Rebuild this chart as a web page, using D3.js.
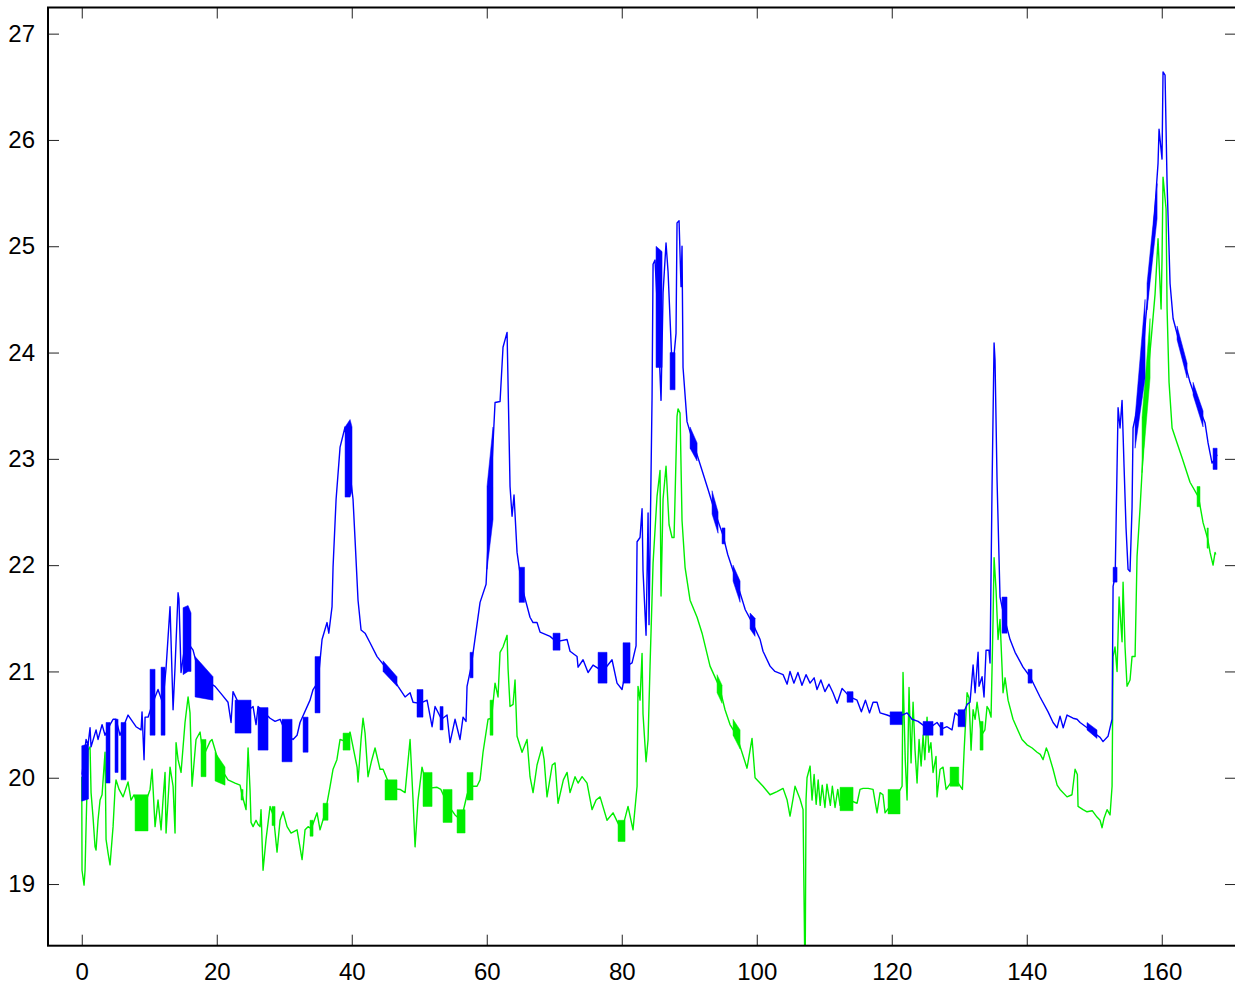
<!DOCTYPE html>
<html lang="en">
<head>
<meta charset="utf-8">
<title>Two series</title>
<script src="https://d3js.org/d3.v7.min.js"></script>
<style>
  body { margin: 0; background: #fff; }
  svg { display: block; font-family: "Liberation Sans", Arial, Helvetica, sans-serif; }
</style>
</head>
<body>
<div id="chart"></div>
<script>
// tick values
var xTicks = [0, 20, 40, 60, 80, 100, 120, 140, 160];
var yTicks = [19, 20, 21, 22, 23, 24, 25, 26, 27];

// blue series [x, y]
var blueLine = [
  [0.04,20.03],[0.64,20.36],[0.93,20.31],[1.23,20.47],[1.38,20.29],[2.12,20.45],[2.41,20.36],[3.01,20.5],[3.45,20.4],
  [4.19,20.5],[4.64,20.55],[5.08,20.55],[5.67,20.4],[6.86,20.59],[8.04,20.48],[8.79,20.45],[8.93,20.62],[9.23,20.17],
  [9.38,20.57],[9.82,20.57],[10.5,20.7],[11.3,20.83],[12.0,20.7],[12.49,21.03],[13.08,21.61],[13.53,20.64],[13.82,21.04],
  [14.27,21.74],[14.4,21.68],[14.71,20.99],[15.4,21.3],[16.49,21.2],[17.5,20.95],[19.75,20.86],[20.79,20.78],
  [21.67,20.71],[22.12,20.52],[22.41,20.81],[24.0,20.6],[25.38,20.67],[25.82,20.5],[26.12,20.67],[27.9,20.56],
  [28.64,20.53],[29.38,20.55],[30.4,20.4],[31.3,20.36],[31.9,20.4],[32.34,20.52],[33.82,20.73],[34.27,20.83],
  [35.0,20.9],[35.6,21.3],[36.34,21.46],[36.6,21.36],[37.08,21.61],[37.23,21.98],[37.68,22.62],[38.27,23.11],
  [39.01,23.3],[39.5,23.0],[40.19,22.62],[40.49,22.24],[40.93,21.67],[41.38,21.39],[41.97,21.36],[42.71,21.27],
  [43.75,21.14],[45.5,21.0],[46.86,20.86],[47.9,20.76],[48.64,20.8],[49.08,20.71],[50.1,20.7],[51.16,20.73],
  [51.9,20.48],[52.34,20.67],[53.3,20.55],[54.12,20.59],[54.56,20.33],[55.3,20.55],[56.04,20.36],[56.49,20.57],
  [56.93,20.53],[57.08,20.86],[57.7,21.05],[59.01,21.65],[59.9,21.82],[60.5,22.6],[61.23,23.53],[61.97,23.54],
  [62.41,24.05],[63.01,24.19],[63.45,22.74],[63.75,22.46],[64.04,22.66],[64.49,22.12],[65.2,21.8],[66.41,21.51],
  [66.86,21.46],[67.45,21.46],[67.9,21.37],[69.38,21.33],[70.3,21.28],[71.9,21.3],[72.34,21.19],[73.38,21.14],
  [73.53,21.04],[74.27,21.11],[75.01,20.99],[75.75,21.06],[77.2,21.0],[78.56,21.11],[79.3,20.89],[80.04,20.83],
  [80.7,21.05],[81.53,21.08],[82.12,21.24],[82.27,22.22],[82.71,22.26],[83.01,22.53],[83.15,21.95],[83.6,21.34],
  [83.9,22.49],[84.04,21.44],[84.49,23.58],[84.64,24.83],[84.93,24.87],[85.3,24.4],[85.82,23.55],[86.12,24.56],
  [86.56,25.03],[86.86,24.76],[87.5,23.8],[88.04,24.18],[88.19,25.22],[88.49,25.24],[88.78,24.62],[88.93,25.0],
  [89.08,23.86],[89.67,23.35],[90.6,23.15],[91.9,22.89],[92.8,22.71],[93.8,22.5],[95.0,22.28],[95.7,22.1],
  [97.0,21.85],[98.3,21.58],[99.4,21.45],[100.5,21.3],[100.93,21.19],[101.97,21.05],[102.7,21.0],[103.9,20.97],
  [104.5,20.88],[104.93,21.0],[105.5,20.89],[106.1,20.99],[106.7,20.87],[107.3,20.97],[107.9,20.89],[108.5,20.94],
  [108.93,20.83],[109.5,20.92],[110.1,20.81],[110.7,20.88],[111.3,20.8],[111.9,20.7],[112.64,20.84],[113.08,20.81],
  [113.8,20.76],[114.86,20.73],[115.5,20.62],[116.1,20.73],[116.7,20.61],[117.23,20.71],[117.82,20.71],
  [118.27,20.61],[119.3,20.59],[120.6,20.56],[122.27,20.61],[123.0,20.55],[123.9,20.53],[125.4,20.46],
  [126.71,20.52],[127.4,20.46],[128.19,20.48],[128.93,20.45],[129.38,20.61],[130.3,20.56],[131.16,20.69],
  [131.6,20.71],[132.05,21.06],[132.35,20.8],[132.79,21.18],[132.93,20.86],[133.38,20.95],[133.67,20.76],
  [133.97,21.2],[134.4,21.2],[134.56,21.08],[134.86,22.74],[135.16,24.09],[135.3,23.93],[135.6,22.8],[136.04,21.7],
  [136.7,21.5],[137.53,21.3],[138.27,21.18],[139.45,21.04],[140.5,20.95],[141.97,20.76],[143.16,20.62],
  [143.9,20.52],[144.49,20.47],[144.93,20.58],[145.4,20.47],[145.97,20.59],[146.86,20.56],[147.45,20.55],
  [147.9,20.52],[149.6,20.44],[150.86,20.38],[151.3,20.34],[152.04,20.39],[152.64,20.55],[152.79,21.8],
  [153.1,21.9],[153.53,23.48],[153.82,23.29],[154.12,23.55],[154.42,22.92],[154.71,22.35],[155.01,21.96],
  [155.3,21.94],[155.6,22.54],[155.75,23.29],[156.8,23.6],[157.6,24.3],[158.6,25.0],[159.45,25.78],[159.6,26.1],
  [160.04,25.82],[160.19,26.64],[160.49,26.61],[160.79,25.59],[161.23,24.65],[161.68,24.32],[163.0,24.0],
  [164.19,23.72],[165.4,23.5],[166.41,23.34],[166.86,23.15],[167.45,22.96],[167.9,23.0],[168.2,23.04]
];

// green series [x, y]
var greenLine = [
  [0.0,20.01],[0.04,19.13],[0.34,18.99],[0.49,19.13],[0.64,19.54],[0.93,20.26],[1.23,20.29],[1.38,19.86],
  [1.67,19.63],[1.97,19.35],[2.12,19.32],[2.41,19.6],[2.71,19.79],[3.01,19.84],[3.45,20.24],[3.5,20.0],[3.6,19.42],
  [3.9,19.29],[4.19,19.18],[4.64,19.54],[4.93,19.89],[5.08,19.98],[5.53,19.89],[6.12,19.82],[6.86,19.96],
  [7.3,19.79],[7.75,19.84],[8.8,19.65],[10.12,19.89],[10.42,20.08],[10.86,19.54],[11.3,19.79],[11.75,19.51],
  [12.04,19.79],[12.34,20.05],[12.49,19.48],[13.08,20.1],[13.53,19.92],[13.82,19.48],[13.97,20.33],[14.27,20.17],
  [14.71,20.05],[15.3,20.52],[15.75,20.76],[16.04,20.61],[16.34,19.92],[16.93,20.36],[17.53,20.43],[18.0,20.2],
  [19.0,20.34],[19.3,20.36],[20.5,20.1],[21.67,19.98],[22.71,19.95],[23.45,19.93],[23.75,19.84],[24.34,19.7],
  [24.64,20.28],[24.93,19.89],[25.08,19.58],[25.38,19.54],[25.82,19.6],[26.12,19.56],[26.41,19.54],[26.56,19.7],
  [26.86,19.13],[27.3,19.42],[27.9,19.73],[28.4,19.64],[28.93,19.3],[29.38,19.6],[29.82,19.68],[30.42,19.54],
  [31.01,19.48],[31.9,19.51],[32.64,19.23],[33.08,19.51],[33.53,19.54],[34.0,19.52],[34.86,19.67],[35.3,19.51],
  [36.1,19.68],[36.79,19.92],[37.23,20.08],[37.8,20.17],[38.27,20.36],[39.2,20.34],[39.75,20.43],[40.19,20.29],
  [40.79,20.1],[40.93,19.96],[41.38,20.36],[41.67,20.56],[41.97,20.42],[42.41,20.01],[42.9,20.15],[43.45,20.28],
  [44.19,20.08],[44.64,20.08],[45.8,19.9],[47.16,19.89],[47.9,19.86],[48.64,20.36],[49.08,19.79],[49.38,19.35],
  [49.82,19.79],[50.41,20.1],[51.2,19.9],[52.64,19.91],[53.2,19.89],[54.2,19.75],[55.3,19.65],[56.2,19.6],
  [57.08,19.84],[57.5,19.92],[58.56,19.92],[59.01,19.98],[59.45,20.24],[60.19,20.55],[60.7,20.56],[61.23,20.89],
  [61.67,20.76],[61.97,21.18],[62.41,21.23],[63.01,21.34],[63.16,21.02],[63.45,20.67],[63.9,20.69],[64.19,20.92],
  [64.49,20.39],[65.23,20.24],[65.97,20.36],[66.41,20.01],[66.86,19.86],[67.45,20.12],[68.19,20.29],[68.5,20.17],
  [68.93,19.82],[69.7,20.12],[70.12,20.14],[70.56,19.76],[71.35,19.98],[71.9,20.05],[72.34,19.86],[73.08,20.01],
  [73.53,19.95],[74.12,20.01],[74.86,19.95],[75.6,19.7],[76.2,19.79],[76.79,19.82],[77.82,19.6],[78.71,19.67],
  [80.0,19.5],[80.93,19.73],[81.67,19.51],[82.27,19.92],[82.41,20.86],[82.71,20.73],[83.01,21.17],[83.15,20.6],
  [83.6,20.15],[83.9,20.36],[84.19,21.05],[84.64,22.02],[85.23,22.65],[85.67,22.89],[85.82,21.71],[86.12,22.62],
  [86.56,22.93],[87.01,22.38],[87.45,22.26],[87.75,22.26],[88.19,23.4],[88.34,23.47],[88.64,23.43],[88.93,22.42],
  [89.38,21.98],[90.12,21.67],[91.16,21.51],[91.9,21.36],[93.08,21.05],[94.5,20.85],[95.3,20.64],[96.04,20.5],
  [97.0,20.4],[98.56,20.09],[99.3,20.37],[99.75,20.0],[100.93,19.92],[101.97,19.84],[103.0,19.87],[103.9,19.9],
  [104.5,19.79],[104.93,19.64],[105.4,19.81],[105.67,19.92],[106.41,19.8],[106.86,19.7],[107.16,18.0],[107.3,19.79],
  [107.45,20.0],[107.9,20.11],[108.19,19.79],[108.5,20.03],[108.8,19.75],[109.1,19.98],[109.4,19.74],[109.7,19.93],
  [110.1,19.72],[110.4,19.94],[110.9,19.74],[111.2,19.92],[111.6,19.72],[112.0,19.89],[112.34,19.74],[113.3,19.8],
  [114.86,19.76],[115.3,19.89],[115.75,19.9],[116.5,19.9],[117.23,19.89],[117.82,19.67],[118.27,19.86],
  [118.7,19.84],[119.01,19.67],[120.3,19.78],[121.53,19.92],[121.67,20.99],[122.0,20.17],[122.27,19.79],
  [122.56,20.85],[122.86,20.14],[123.16,20.71],[123.45,20.26],[123.75,19.95],[124.05,20.36],[124.35,20.11],
  [124.64,20.4],[124.9,20.17],[125.23,20.57],[125.5,20.24],[125.8,20.33],[126.12,20.05],[126.56,20.2],
  [126.71,19.82],[127.16,20.08],[127.6,20.1],[128.05,19.89],[129.3,20.0],[130.47,19.89],[130.71,20.24],
  [131.16,20.8],[131.45,20.75],[131.75,20.26],[132.05,20.64],[132.35,20.55],[132.64,20.71],[133.3,20.4],
  [133.8,20.45],[134.12,20.67],[134.4,20.64],[134.71,20.57],[135.01,21.49],[135.16,22.07],[135.45,21.77],
  [135.75,21.3],[136.04,21.49],[136.34,21.04],[136.49,20.8],[136.79,20.94],[137.23,20.73],[137.97,20.55],
  [139.3,20.36],[140.04,20.31],[140.8,20.28],[141.53,20.24],[142.0,20.22],[142.42,20.17],[142.9,20.28],
  [143.16,20.24],[143.9,20.08],[144.5,19.93],[144.93,19.89],[145.97,19.82],[146.7,19.84],[147.16,20.08],
  [147.5,20.03],[147.6,19.73],[148.34,19.7],[148.93,19.68],[149.7,19.69],[150.41,19.63],[150.86,19.6],
  [151.16,19.53],[151.45,19.62],[151.9,19.7],[152.34,19.65],[152.64,19.92],[152.79,21.14],[153.08,21.23],
  [153.38,21.0],[153.68,21.7],[154.12,21.28],[154.27,21.84],[154.56,21.23],[154.86,20.86],[155.3,20.92],
  [155.6,21.14],[156.05,21.14],[156.34,22.08],[156.79,22.54],[157.7,23.6],[158.56,24.22],[159.01,24.55],
  [159.45,25.07],[159.9,24.41],[160.04,24.87],[160.19,25.65],[160.64,25.35],[160.79,24.41],[161.08,23.72],
  [161.53,23.29],[162.27,23.15],[163.01,23.01],[164.19,22.78],[165.45,22.64],[166.12,22.4],[166.8,22.25],
  [167.16,22.12],[167.6,22.0],[167.9,22.12],[168.0,22.1]
];

// dense oscillation bands [x, low, high]
var blueBands = [
  [[0.0,19.78,20.3],[1.0,19.8,20.32]],
  [[3.6,19.95,20.52],[4.19,19.95,20.52]],
  [[4.93,20.05,20.55],[5.38,20.05,20.55]],
  [[5.82,19.98,20.52],[6.56,19.98,20.52]],
  [[10.12,20.4,21.02],[10.86,20.4,21.02]],
  [[11.75,20.4,21.04],[12.34,20.4,21.04]],
  [[15.01,20.97,21.6],[15.75,21.0,21.62],[16.19,21.0,21.55]],
  [[16.79,20.76,21.14],[19.45,20.73,20.95]],
  [[22.71,20.42,20.73],[25.08,20.42,20.73]],
  [[26.12,20.26,20.66],[27.6,20.26,20.66]],
  [[29.67,20.15,20.55],[31.16,20.15,20.55]],
  [[32.79,20.24,20.57],[33.53,20.24,20.57]],
  [[34.56,20.61,21.14],[35.3,20.61,21.14]],
  [[39.01,22.64,23.3],[39.75,22.64,23.37],[40.04,22.7,23.3]],
  [[44.64,21.0,21.1],[46.71,20.86,20.95]],
  [[49.67,20.57,20.83],[50.56,20.57,20.83]],
  [[53.08,20.45,20.67],[53.53,20.45,20.67]],
  [[57.53,20.94,21.18],[57.97,20.94,21.18]],
  [[60.04,21.96,22.74],[60.93,22.43,23.3]],
  [[64.8,21.65,21.98],[65.6,21.65,21.98]],
  [[69.82,21.2,21.36],[70.86,21.2,21.36]],
  [[76.49,20.89,21.18],[77.82,20.89,21.18]],
  [[80.19,20.89,21.27],[81.23,20.89,21.27]],
  [[85.08,23.86,25.0],[85.97,23.86,24.95]],
  [[87.16,23.65,24.0],[87.9,23.65,24.0]],
  [[90.12,23.1,23.3],[91.16,22.98,23.15]],
  [[93.38,22.48,22.7],[94.27,22.3,22.5]],
  [[94.86,22.2,22.35],[95.3,22.2,22.35]],
  [[96.49,21.85,22.0],[97.53,21.65,21.85]],
  [[99.01,21.4,21.55],[99.75,21.33,21.5]],
  [[113.38,20.71,20.81],[114.27,20.71,20.81]],
  [[119.75,20.5,20.62],[121.53,20.5,20.62]],
  [[124.64,20.4,20.53],[126.12,20.4,20.53]],
  [[127.16,20.4,20.52],[127.6,20.4,20.52]],
  [[129.82,20.48,20.64],[130.86,20.48,20.64]],
  [[136.34,21.36,21.7],[137.08,21.36,21.7]],
  [[140.19,20.89,21.02],[140.79,20.89,21.02]],
  [[148.93,20.45,20.52],[150.41,20.37,20.45]],
  [[152.79,21.84,21.98],[153.38,21.84,21.98]],
  [[156.05,23.1,23.39],[157.53,23.76,24.5]],
  [[157.82,24.4,24.65],[159.31,25.26,25.59]],
  [[162.27,24.12,24.25],[163.75,23.76,23.9]],
  [[164.64,23.6,23.72],[166.12,23.3,23.45]],
  [[167.6,22.9,23.1],[168.2,22.9,23.1]]
];

var greenBands = [
  [[7.9,19.5,19.84],[9.82,19.5,19.84]],
  [[17.67,20.01,20.36],[18.41,20.01,20.36]],
  [[19.75,19.97,20.24],[21.23,19.93,20.1]],
  [[23.6,19.79,19.89],[23.9,19.79,19.89]],
  [[28.19,19.55,19.73],[28.64,19.55,19.73]],
  [[33.82,19.45,19.6],[34.27,19.45,19.6]],
  [[35.75,19.6,19.76],[36.49,19.6,19.76]],
  [[38.71,20.26,20.42],[39.75,20.26,20.42]],
  [[44.93,19.79,19.98],[46.71,19.79,19.98]],
  [[50.56,19.73,20.05],[51.9,19.73,20.05]],
  [[53.53,19.58,19.89],[54.86,19.58,19.89]],
  [[55.6,19.48,19.7],[56.79,19.48,19.7]],
  [[57.08,19.79,20.05],[57.97,19.79,20.05]],
  [[60.49,20.4,20.73],[60.93,20.4,20.73]],
  [[79.45,19.4,19.6],[80.49,19.4,19.6]],
  [[94.12,20.8,20.97],[94.86,20.7,20.87]],
  [[96.49,20.4,20.55],[97.53,20.27,20.45]],
  [[112.34,19.69,19.91],[114.27,19.69,19.91]],
  [[119.45,19.66,19.89],[121.23,19.66,19.89]],
  [[128.64,19.92,20.1],[129.93,19.92,20.1]],
  [[133.08,20.26,20.53],[133.53,20.26,20.53]],
  [[157.08,22.87,23.39],[158.27,23.76,24.32]],
  [[165.23,22.55,22.74],[165.67,22.55,22.74]],
  [[166.71,22.16,22.35],[166.9,22.16,22.35]]
];

var W = 1235, H = 987;
var plot = {left: 48, right: 1236, top: 7.5, bottom: 945.7};
var tickLen = 11;

var svg = d3.select("#chart").append("svg")
    .attr("width", W)
    .attr("height", H);

var x = d3.scaleLinear().domain([-5, 171]).range([plot.left, plot.right]);
var y = d3.scaleLinear().domain([18.42, 27.246]).range([plot.bottom, plot.top]);

svg.append("defs").append("clipPath").attr("id", "clip")
  .append("rect")
    .attr("x", plot.left).attr("y", plot.top)
    .attr("width", plot.right - plot.left).attr("height", plot.bottom - plot.top);

var data = svg.append("g").attr("clip-path", "url(#clip)");

var line = d3.line().x(d => x(d[0])).y(d => y(d[1]));
var area = d3.area().x(d => x(d[0])).y0(d => y(d[1])).y1(d => y(d[2]));

function drawSeries(pts, bands, color) {
  // solid band where the trace oscillates too fast to resolve
  data.selectAll(null)
    .data(bands)
    .join("path")
      .attr("d", area)
      .attr("fill", color)
      .attr("stroke", color)
      .attr("stroke-width", 0.5);
  data.append("path")
    .datum(pts)
    .attr("d", line)
    .attr("fill", "none")
    .attr("stroke", color)
    .attr("stroke-width", 1.4)
    .attr("stroke-linejoin", "round");
}

drawSeries(greenLine, greenBands, "#00ee00");
drawSeries(blueLine, blueBands, "#0000ff");

// inward ticks on all four sides (box axes)
var bottomAxis = svg.append("g")
  .attr("transform", `translate(0,${plot.bottom})`)
  .call(d3.axisBottom(x).tickValues(xTicks).tickSize(-tickLen).tickPadding(17));
var topAxis = svg.append("g")
  .attr("transform", `translate(0,${plot.top})`)
  .call(d3.axisTop(x).tickValues(xTicks).tickSize(-tickLen).tickFormat(""));
var leftAxis = svg.append("g")
  .attr("transform", `translate(${plot.left},0)`)
  .call(d3.axisLeft(y).tickValues(yTicks).tickSize(-tickLen).tickPadding(13));
var rightAxis = svg.append("g")
  .attr("transform", `translate(${plot.right},0)`)
  .call(d3.axisRight(y).tickValues(yTicks).tickSize(-tickLen).tickFormat(""));

[bottomAxis, topAxis, leftAxis, rightAxis].forEach(function(g) {
  g.select(".domain").remove();
  g.selectAll(".tick line").attr("stroke", "#222").attr("stroke-width", 1);
  g.selectAll(".tick text").attr("fill", "#000").style("font-size", "24px");
});

// box outline
svg.append("rect")
  .attr("x", plot.left).attr("y", plot.top)
  .attr("width", plot.right - plot.left).attr("height", plot.bottom - plot.top)
  .attr("fill", "none")
  .attr("stroke", "#000")
  .attr("stroke-width", 2);
</script>
</body>
</html>
